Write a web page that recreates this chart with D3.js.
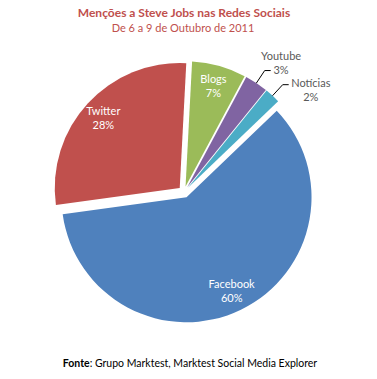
<!DOCTYPE html>
<html>
<head>
<meta charset="utf-8">
<script src="https://cdn.jsdelivr.net/npm/d3@7"></script>
<style>
  body { margin: 0; background: #fff; }
  svg { display: block; font-family: Lato, "Open Sans", sans-serif; }
</style>
</head>
<body>
<div id="chart"></div>
<script>
// Data (clockwise from 12 o'clock)
const categories = ['Blogs', 'Youtube', 'Notícias', 'Facebook', 'Twitter'];
const shares = [7, 3, 2, 60, 28];
const colors = ['#9BBB59', '#8064A2', '#4BACC6', '#4F81BD', '#C0504D'];
const outside = ['Youtube', 'Notícias'];

const width = 377, height = 379;
const cx = 184, cy = 192, radius = 125, explode = 5.8;
const rot = 3 * Math.PI / 180;

const svg = d3.select('#chart').append('svg')
    .attr('width', width)
    .attr('height', height);

// Title
svg.append('text')
    .attr('x', 184).attr('y', 17)
    .attr('text-anchor', 'middle')
    .attr('fill', '#C0504D')
    .style('font-size', '12px').style('font-weight', 'bold')
    .text('Menções a Steve Jobs nas Redes Sociais');

svg.append('text')
    .attr('x', 183).attr('y', 32)
    .attr('text-anchor', 'middle')
    .attr('fill', '#C0504D')
    .style('font-size', '11px')
    .text('De 6 a 9 de Outubro de 2011');

const data = categories.map((c, i) => ({ name: c, value: shares[i], color: colors[i] }));

const pie = d3.pie()
    .sort(null)
    .value(d => d.value)
    .startAngle(rot)
    .endAngle(rot + 2 * Math.PI);

const arc = d3.arc().innerRadius(0).outerRadius(radius);
const polar = (a, r) => [r * Math.sin(a), -r * Math.cos(a)];

const arcs = pie(data);

const g = svg.append('g').attr('transform', `translate(${cx},${cy})`);

const slice = g.selectAll('.slice')
    .data(arcs)
    .enter().append('g')
    .attr('class', 'slice')
    .attr('transform', d => {
        const [x, y] = polar((d.startAngle + d.endAngle) / 2, explode);
        return `translate(${x},${y})`;
    });

slice.append('path')
    .attr('d', arc)
    .attr('fill', d => d.data.color);

// inside labels
const inner = slice.filter(d => !outside.includes(d.data.name));
inner.each(function(d) {
    const [x, y] = polar((d.startAngle + d.endAngle) / 2, radius * 0.83);
    const t = d3.select(this).append('text')
        .attr('text-anchor', 'middle')
        .attr('fill', '#fff')
        .style('font-size', '11px');
    t.append('tspan').attr('x', x).attr('y', y - 3).text(d.data.name);
    t.append('tspan').attr('x', x).attr('y', y + 11).text(d.data.value + '%');
});

// outside labels with leader lines
const labelPos = { 'Youtube': { angle: 37, r: 156 }, 'Notícias': { angle: 51.5, r: 157 } };
const outer = slice.filter(d => outside.includes(d.data.name));
outer.each(function(d) {
    const mid = (d.startAngle + d.endAngle) / 2;
    const p0 = polar(mid, radius);
    const p1 = polar(mid, radius + 15);
    const p2 = [p1[0] + 6, p1[1]];
    d3.select(this).append('polyline')
        .attr('points', [p0, p1, p2].map(p => p.join(',')).join(' '))
        .attr('fill', 'none')
        .attr('stroke', '#000')
        .attr('stroke-width', 1);
    const lp = labelPos[d.data.name];
    const [x, y] = polar(lp.angle * Math.PI / 180, lp.r);
    const t = d3.select(this).append('text')
        .attr('text-anchor', 'middle')
        .attr('fill', '#595959')
        .style('font-size', '11px');
    t.append('tspan').attr('x', x).attr('y', y - 3).text(d.data.name);
    t.append('tspan').attr('x', x).attr('y', y + 11).text(d.data.value + '%');
});

// Source
const src = svg.append('text')
    .attr('x', 190).attr('y', 367)
    .attr('text-anchor', 'middle')
    .attr('fill', '#000')
    .style('font-size', '10.5px');
src.append('tspan').style('font-weight', 'bold').text('Fonte');
src.append('tspan').text(': Grupo Marktest, Marktest Social Media Explorer');
</script>
</body>
</html>
